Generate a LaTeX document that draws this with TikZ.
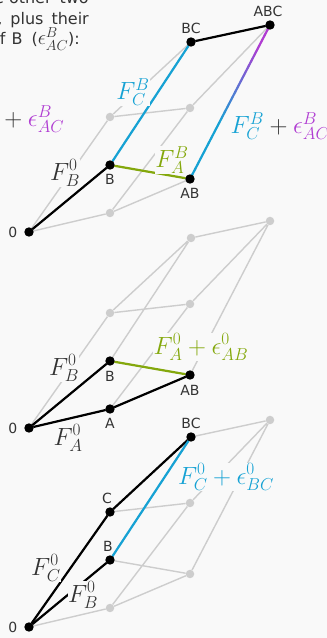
\documentclass[tikz,border=0pt]{standalone}
\usepackage{fontspec}
\usetikzlibrary{positioning,calc}
\newfontfamily\labfont{DejaVu Sans}
\definecolor{bgcol}{HTML}{F9F9F9}
\definecolor{latgray}{HTML}{CDCDCD}
\definecolor{txtgray}{HTML}{333333}
\definecolor{fblue}{HTML}{16A2D4}
\definecolor{fgreen}{HTML}{84A80C}
\definecolor{fpurple}{HTML}{B03CD2}
\begin{document}
\begin{tikzpicture}[x=1pt,y=1pt,
  gdot/.style={circle,fill=latgray,inner sep=0pt,minimum size=8.5pt},
  latedge/.style={latgray,line width=1.4pt},
  hitedge/.style={line width=2.2pt},
  vlab/.style={font=\labfont\fontsize{14}{16}\selectfont,text=txtgray,inner sep=1pt},
  slidetext/.style={font=\labfont\fontsize{16}{19}\selectfont,text=txtgray,inner sep=0pt},
  flab/.style={font=\fontsize{26}{30}\selectfont,text=txtgray,fill=bgcol,inner sep=0.5pt}]
  \clip (0,0) rectangle (327,638);
  \fill[bgcol] (0,0) rectangle (327,638);
  % slide text, cut at the left edge
  \node[slidetext,anchor=base east] (txt-a) at (89,634) {e other\hspace{8pt}two};
  \node[slidetext,anchor=base east] (txt-b) at (89,613.5) {n,\hspace{8pt}plus\hspace{8pt}their};
  \node[slidetext,anchor=base east] (txt-c) at (80,593)
    {f\hspace{6pt}B\hspace{9pt}({\fontsize{20}{24}\selectfont$\epsilon^B_{AC}$}):};
  % the three lattices, top (t), middle (m), bottom (b)
  \foreach \cb/\oy in {t/406,m/210,b/11} {
    \node[gdot] (\cb-0) at (29,\oy) {};
    \node[gdot] (\cb-A) at (110,\oy+19) {};
    \node[gdot] (\cb-B) at (110,\oy+67) {};
    \node[gdot] (\cb-C) at (110,\oy+115) {};
    \node[gdot] (\cb-AB) at (190,\oy+53) {};
    \node[gdot] (\cb-AC) at (190,\oy+124) {};
    \node[gdot] (\cb-BC) at (191,\oy+190) {};
    \node[gdot] (\cb-ABC) at (270,\oy+207) {};
    \draw[latedge] (\cb-0) -- (\cb-A) (\cb-0) -- (\cb-B) (\cb-0) -- (\cb-C)
      (\cb-A) -- (\cb-AB) (\cb-A) -- (\cb-AC) (\cb-B) -- (\cb-AB)
      (\cb-B) -- (\cb-BC) (\cb-C) -- (\cb-AC) (\cb-C) -- (\cb-BC)
      (\cb-AB) -- (\cb-ABC) (\cb-AC) -- (\cb-ABC) (\cb-BC) -- (\cb-ABC);
  }
  % top
  \draw[hitedge,black] (t-0) -- (t-B);
  \draw[hitedge,fblue] (t-B) -- (t-BC);
  \draw[hitedge,fgreen] (t-B) -- (t-AB);
  \draw[hitedge,black] (t-BC) -- (t-ABC);
  \foreach \i in {0,...,29} {
    \pgfmathsetmacro{\pc}{min(100,max(0,(\i/30-0.35)*200))}
    \draw[hitedge,line cap=round,fpurple!\pc!fblue]
      ($(t-AB)!\i/30!(t-ABC)$) -- ($(t-AB)!\i/30+1/30!(t-ABC)$);
  }
  % middle
  \draw[hitedge,black] (m-0) -- (m-B);
  \draw[hitedge,black] (m-0) -- (m-A);
  \draw[hitedge,black] (m-A) -- (m-AB);
  \draw[hitedge,fgreen] (m-B) -- (m-AB);
  % bottom
  \draw[hitedge,black] (b-0) -- (b-C);
  \draw[hitedge,black] (b-C) -- (b-BC);
  \draw[hitedge,black] (b-0) -- (b-B);
  \draw[hitedge,fblue] (b-B) -- (b-BC);
  \foreach \v in {t-0,t-B,t-AB,t-BC,t-ABC,m-0,m-A,m-B,m-AB,b-0,b-B,b-C,b-BC}
    \fill[black] (\v) circle (4.7);
  % vertex labels
  \node[vlab,left=6pt of t-0] (tl-0) {0};
  \node[vlab,below=4pt of t-B] (tl-B) {B};
  \node[vlab,below=4pt of t-AB] (tl-AB) {AB};
  \node[vlab,above=3pt of t-BC] (tl-BC) {BC};
  \node[vlab,above=3pt of t-ABC,xshift=-2pt] (tl-ABC) {ABC};
  \node[vlab,left=6pt of m-0] (ml-0) {0};
  \node[vlab,below=5pt of m-B] (ml-B) {B};
  \node[vlab,below=5pt of m-AB] (ml-AB) {AB};
  \node[vlab,below=4pt of m-A] (ml-A) {A};
  \node[vlab,left=6pt of b-0] (bl-0) {0};
  \node[vlab,above=3pt of b-C,xshift=-3pt] (bl-C) {C};
  \node[vlab,above=3pt of b-B,xshift=-2pt] (bl-B) {B};
  \node[vlab,above=3pt of b-BC] (bl-BC) {BC};
  % edge labels
  \node[flab] (t-fb) at (65,465) {$F_B^0$};
  \node[flab,text=fblue] (t-fcb) at (133,546) {$F_C^B$};
  \node[flab,text=fgreen] (t-fab) at (172,478) {$F_A^B$};
  \node[flab,anchor=west] (t-sum) at (230,512)
    {$\textcolor{fblue}{F_C^B}+\textcolor{fpurple}{\epsilon^B_{AC}}$};
  \node[flab,anchor=east] (t-eps) at (65,519) {${}+\textcolor{fpurple}{\epsilon^B_{AC}}$};
  \node[flab] (m-fb) at (64,270) {$F_B^0$};
  \node[flab] (m-fa) at (68,200) {$F_A^0$};
  \node[flab,text=fgreen] (m-sum) at (201,291) {$F_A^0+\epsilon^0_{AB}$};
  \node[flab] (b-fc) at (46,70) {$F_C^0$};
  \node[flab] (b-fb) at (83,43) {$F_B^0$};
  \node[flab,text=fblue] (b-sum) at (226,161) {$F_C^0+\epsilon^0_{BC}$};
\end{tikzpicture}
\end{document}
